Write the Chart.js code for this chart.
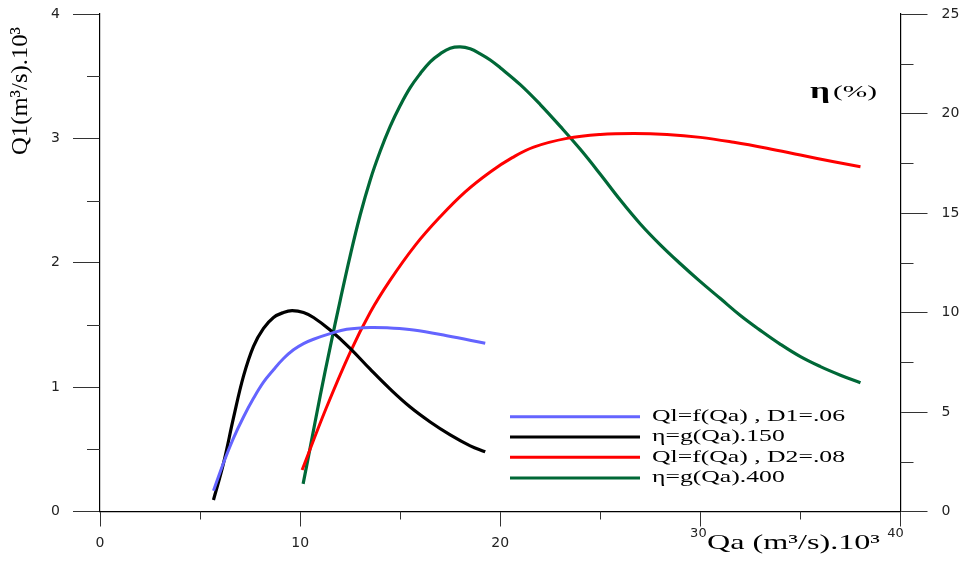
<!DOCTYPE html>
<html><head><meta charset="utf-8">
<script src="https://cdn.jsdelivr.net/npm/chart.js@4.4.0/dist/chart.umd.min.js"></script>
<style>html,body{margin:0;padding:0;background:#fff}canvas{display:block}</style>
</head><body>
<canvas id="c" width="969" height="569"></canvas>
<script>
// ---- data ----
const xTickLabels = ['0','10','20','30','40'];
const leftTickLabels = ['0','1','2','3','4'];
const rightTickLabels = ['0','5','10','15','20','25'];

const seriesLabels = ['Ql=f(Qa) , D1=.06','η=g(Qa).150','Ql=f(Qa) , D2=.08','η=g(Qa).400'];

const blueX = [5.67,6.17,6.67,7.17,7.67,8.17,8.67,9.17,9.67,10.17,10.67,11.5,12.33,13.5,14.5,15.67,17.33,19.25];
const blueQ = [0.167,0.39,0.59,0.76,0.91,1.04,1.14,1.23,1.3,1.35,1.385,1.43,1.465,1.48,1.475,1.459,1.413,1.352];

const blackX = [5.67,6.17,6.67,7.17,7.67,8.17,8.67,9.17,9.6,10.17,10.67,11.5,12.5,13.5,14.5,15.5,16.5,17.5,18.5,19.25];
const blackEta = [0.58,2.42,4.7,6.8,8.3,9.2,9.75,10.0,10.09,10.0,9.75,9.12,8.2,7.15,6.15,5.25,4.5,3.85,3.3,3.0];

const redX = [10.1,11.3,12.5,13.5,14.5,15.75,17,18.25,19.5,20.6,21.67,23.33,25,26.67,28.33,30,31.67,33.33,35,36.67,38];
const redQ = [0.334,0.83,1.28,1.6,1.86,2.14,2.37,2.57,2.73,2.845,2.93,3.0,3.032,3.04,3.032,3.008,2.968,2.92,2.866,2.812,2.772];

const greenX = [10.15,10.5,11,11.5,12,12.5,13,13.5,14,14.5,15,15.5,16,16.5,17,17.5,18,18.5,19,19.5,20,21,22,23,24,25,26,27,28,29,30,31,32,33,34,35,36,37,38];
const greenEta = [1.39,3.2,5.8,8.25,10.6,12.85,14.9,16.65,18.1,19.35,20.4,21.3,22.0,22.6,23.0,23.28,23.35,23.25,23.0,22.69,22.3,21.45,20.45,19.35,18.2,16.95,15.65,14.45,13.4,12.45,11.55,10.7,9.85,9.1,8.4,7.78,7.28,6.85,6.47];

const colors = ['#6464FF','#000000','#FF0000','#006837'];

const pts = (xs, ys) => xs.map((x,i)=>({x:x, y:ys[i]}));

const SERIF = '"Liberation Serif","Times New Roman",serif';
const SANS = '"DejaVu Sans",sans-serif';

function fitText(ctx, text, left, y, w, font){
  ctx.save();
  ctx.font = font;
  const m = ctx.measureText(text).width;
  ctx.translate(left, y);
  ctx.scale(w/m, 1);
  ctx.textAlign = 'left';
  ctx.textBaseline = 'middle';
  ctx.fillText(text, 0, 0);
  ctx.restore();
}

const decor = {
  id: 'decor',
  afterDraw(chart){
    const ctx = chart.ctx;
    const xs = chart.scales.x, yl = chart.scales.y, yr = chart.scales.y2;
    ctx.save();
    ctx.strokeStyle = '#333';
    ctx.lineWidth = 1;
    // minor ticks
    [5,15,25,35].forEach(v=>{
      const p = Math.round(xs.getPixelForValue(v))+0.5;
      ctx.beginPath(); ctx.moveTo(p, xs.top); ctx.lineTo(p, xs.top+8); ctx.stroke();
    });
    [0.5,1.5,2.5,3.5].forEach(v=>{
      const p = Math.round(yl.getPixelForValue(v))+0.5;
      ctx.beginPath(); ctx.moveTo(yl.right-13, p); ctx.lineTo(yl.right, p); ctx.stroke();
    });
    [2.5,7.5,12.5,17.5,22.5].forEach(v=>{
      const p = Math.round(yr.getPixelForValue(v))+0.5;
      ctx.beginPath(); ctx.moveTo(yr.left, p); ctx.lineTo(yr.left+13, p); ctx.stroke();
    });
    ctx.restore();

    ctx.save();
    ctx.fillStyle = '#222';
    ctx.font = '13px ' + SANS;
    ctx.textAlign = 'center'; ctx.textBaseline = 'middle';
    ctx.fillText(xTickLabels[3], xs.getPixelForValue(30)-2, 534);
    ctx.fillText(xTickLabels[4], xs.getPixelForValue(40)-5, 534);
    ctx.restore();

    ctx.save();
    ctx.fillStyle = '#000';
    // x title
    fitText(ctx, 'Qa (m³/s).10³', 707, 543, 173, '22px ' + SERIF);
    // eta label
    fitText(ctx, 'η', 810, 92, 20, 'bold 24px ' + SERIF);
    fitText(ctx, '(%)', 833, 93, 44, '17px ' + SERIF);
    // left title rotated
    ctx.save();
    ctx.font = '20px ' + SERIF;
    const t = 'Q1(m³/s).10³';
    const m = ctx.measureText(t).width;
    ctx.translate(21, 91);
    ctx.rotate(-Math.PI/2);
    ctx.scale(128/m, 1.2);
    ctx.textAlign = 'center'; ctx.textBaseline = 'middle';
    ctx.fillText(t, 0, 0);
    ctx.restore();

    // legend
    const ly = [416.7, 436.9, 457.2, 478.0];
    ctx.font = '17px ' + SERIF;
    const s = 193 / ctx.measureText(chart.data.datasets[0].label).width;
    chart.data.datasets.forEach((ds,i)=>{
      ctx.strokeStyle = ds.borderColor;
      ctx.lineWidth = 3;
      ctx.beginPath(); ctx.moveTo(510, ly[i]); ctx.lineTo(640, ly[i]); ctx.stroke();
      ctx.save();
      ctx.font = '17px ' + SERIF;
      ctx.translate(652, ly[i]);
      ctx.scale(s, 1);
      ctx.textAlign='left'; ctx.textBaseline='middle';
      ctx.fillStyle = '#000';
      ctx.fillText(ds.label, 0, 0);
      ctx.restore();
    });
    ctx.restore();
  }
};

const mk = (i, data, axis, bw) => ({
  label: seriesLabels[i], data: data, yAxisID: axis,
  borderColor: colors[i], backgroundColor: colors[i],
  borderWidth: bw, pointRadius: 0, fill: false,
  tension: 0.4, borderCapStyle: 'butt', borderJoinStyle: 'round'
});

const TICKFONT = { family: SANS, size: 14 };
const vFit = (w) => (s) => { s.width = w; s.paddingTop = 0; s.paddingBottom = 0; };

new Chart(document.getElementById('c'), {
  type: 'line',
  data: { datasets: [
    mk(0, pts(blueX, blueQ), 'y', 3),
    mk(1, pts(blackX, blackEta), 'y2', 3.2),
    mk(2, pts(redX, redQ), 'y', 3),
    mk(3, pts(greenX, greenEta), 'y2', 3.2)
  ]},
  options: {
    responsive: false, animation: false, devicePixelRatio: 1,
    layout: { padding: { top: 14, left: 0, right: 0, bottom: 0 } },
    plugins: { legend: { display: false }, tooltip: { enabled: false } },
    scales: {
      x: {
        type: 'linear', min: 0, max: 40,
        afterFit: s => { s.height = 57.5; s.paddingLeft = 0; s.paddingRight = 0; },
        ticks: { stepSize: 10, padding: 8, color: '#222', font: TICKFONT,
          callback: (v) => { const i = v/10; return (i <= 2) ? xTickLabels[i] : ''; } },
        grid: { drawOnChartArea: false, tickLength: 15, color: '#333' },
        border: { color: '#000', width: 1.2 }
      },
      y: {
        position: 'left', min: 0, max: 4,
        afterFit: vFit(100),
        ticks: { stepSize: 1, padding: 13, color: '#222', font: TICKFONT,
          callback: (v) => leftTickLabels[v] },
        grid: { drawOnChartArea: false, tickLength: 27, color: '#333' },
        border: { color: '#000', width: 1.2 }
      },
      y2: {
        position: 'right', min: 0, max: 25,
        afterFit: vFit(68.5),
        ticks: { stepSize: 5, padding: 14, color: '#222', font: TICKFONT,
          callback: (v) => rightTickLabels[v/5] },
        grid: { drawOnChartArea: false, tickLength: 27, color: '#333' },
        border: { color: '#000', width: 1.2 }
      }
    }
  },
  plugins: [decor]
});
</script>
</body></html>
